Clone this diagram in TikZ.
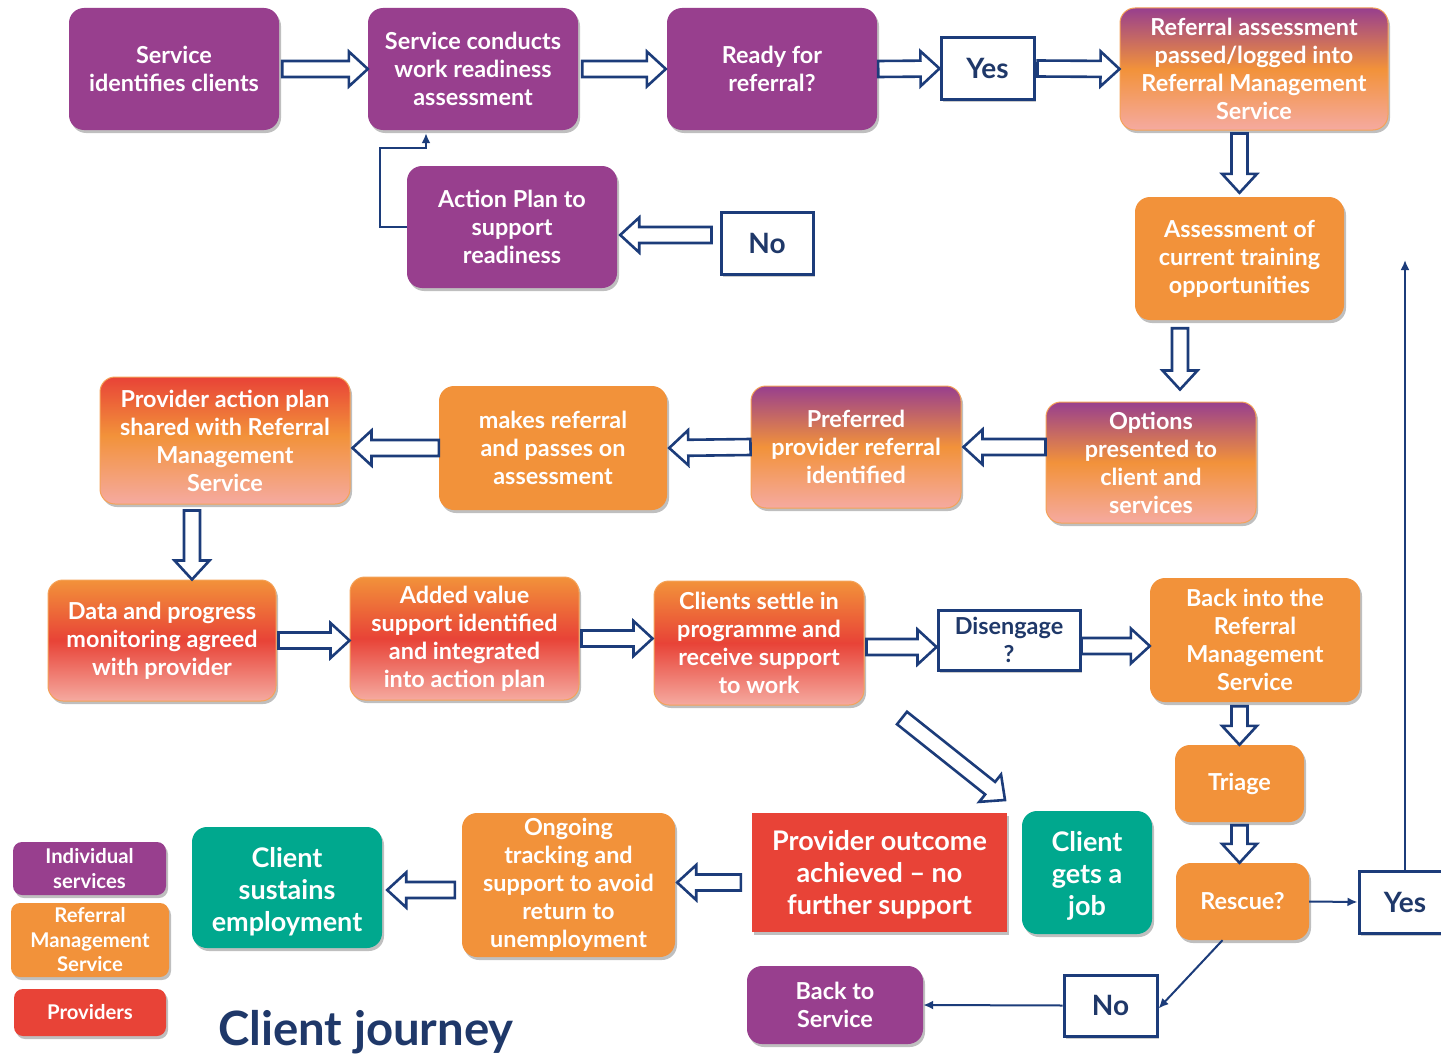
\documentclass[tikz,border=0pt]{standalone}
\usepackage{fontspec}
\setmainfont{Lato}
\usetikzlibrary{calc,shadows,arrows.meta}

\definecolor{cjpurple}{RGB}{152,63,142}
\definecolor{cjorange}{RGB}{242,146,58}
\definecolor{cjred}{RGB}{232,67,55}
\definecolor{cjpink}{RGB}{245,170,160}
\definecolor{cjteal}{RGB}{0,168,142}
\definecolor{cjblue}{RGB}{28,60,122}
\definecolor{cjnavy}{RGB}{31,56,105}

% vertical blends for the mixed-role boxes (top colour at 75bp, bottom at 25bp)
\pgfdeclareverticalshading{shPO}{100bp}{color(0bp)=(cjpink); color(25bp)=(cjpink);
  color(50bp)=(cjorange); color(75bp)=(cjpurple); color(100bp)=(cjpurple)}
\pgfdeclareverticalshading{shRO}{100bp}{color(0bp)=(cjpink); color(25bp)=(cjpink);
  color(52bp)=(cjorange); color(75bp)=(cjred); color(100bp)=(cjred)}
\pgfdeclareverticalshading{shOR}{100bp}{color(0bp)=(cjpink); color(25bp)=(cjpink);
  color(50bp)=(cjred); color(75bp)=(cjorange); color(100bp)=(cjorange)}

\newcommand\boxfont{\fontsize{23.4}{28}\selectfont\bfseries}
\newcommand\bigboxfont{\fontsize{27}{32}\selectfont\bfseries}
\newcommand\hugeboxfont{\fontsize{27}{32}\selectfont\bfseries}
\newcommand\legendfont{\fontsize{20.3}{24.5}\selectfont\bfseries}
\newcommand\answerfont{\fontsize{28}{30}\selectfont\bfseries}
% taller first line, to sit a block of text a little lower in its box
\newcommand\lowerby[1]{\rule{0pt}{#1}}

% hollow block arrow from one point to another
\newcommand\hollowarrow[2]{%
  \draw[hollow] let \p1=(#1), \p2=(#2),
      \n1={atan2(\y2-\y1,\x2-\x1)}, \n2={veclen(\x2-\x1,\y2-\y1)} in
    [shift={(\x1,\y1)}, rotate=\n1]
    (0pt,-8pt) -- ({\n2-19pt},-8pt) -- ({\n2-19pt},-17.5pt) -- ({\n2*1pt},0pt)
    -- ({\n2-19pt},17.5pt) -- ({\n2-19pt},8pt) -- (0pt,8pt) -- cycle;}

\tikzset{
  box/.style={rounded corners=15pt, text=white, align=center, font=\boxfont,
    inner sep=0pt, drop shadow={shadow xshift=2pt, shadow yshift=-3pt, opacity=0.25, fill=black}},
  purplebox/.style={box, fill=cjpurple},
  orangebox/.style={box, fill=cjorange},
  tealbox/.style={box, fill=cjteal},
  redbox/.style={box, fill=cjred},
  gradPO/.style={box, shade, shading=shPO, draw=cjorange!85!white, line width=1pt},
  gradRO/.style={box, shade, shading=shRO, draw=cjorange!85!white, line width=1pt},
  gradOR/.style={box, shade, shading=shOR, draw=cjorange!85!white, line width=1pt},
  answer/.style={draw=cjblue, line width=3pt, fill=white, text=cjnavy, font=\answerfont,
    align=center, inner sep=0pt,
    drop shadow={shadow xshift=2pt, shadow yshift=-3pt, opacity=0.2, fill=black}},
  hollow/.style={draw=cjblue, line width=2.6pt, fill=white, line join=miter},
  link/.style={draw=cjblue, line width=2pt, -{Latex[length=10pt,width=9pt]}},
}

\begin{document}
\begin{tikzpicture}[x=1pt, y=-1pt]
\useasboundingbox (0,0) rectangle (1441,1057);
\clip (0,0) rectangle (1441,1057);
\fill[white] (0,0) rectangle (1441,1057);

% ---- first row: individual services ----
\node[purplebox, minimum width=210, minimum height=122] (n1) at (174,69)
  {Service\\identifies clients};
\node[purplebox, minimum width=210, minimum height=122] (n2) at (473,69)
  {Service conducts\\work readiness\\assessment};
\node[purplebox, minimum width=210, minimum height=122] (n3) at (772,69)
  {Ready for\\referral?};
\node[answer, minimum width=93, minimum height=61] (yes1) at (987.5,68.5) {Yes};
\node[gradPO, minimum width=268, minimum height=122] (n5) at (1254,69)
  {Referral assessment\\passed/logged into\\Referral Management\\Service};
\node[purplebox, minimum width=210, minimum height=122] (n6) at (512,227)
  {Action Plan to\\support\\readiness};
\node[answer, minimum width=92, minimum height=62] (no1) at (767,243) {No};
\node[orangebox, minimum width=209, minimum height=123] (n8) at (1239.5,258.5)
  {Assessment of\\current training\\opportunities};

% ---- referral management ----
\node[gradPO, minimum width=210, minimum height=121] (n9) at (1151,462.5)
  {Options\\presented to\\client and\\services};
\node[gradPO, minimum width=210, minimum height=122] (n10) at (856,447)
  {Preferred\\provider referral\\identified};
\node[orangebox, minimum width=228, minimum height=124] (n11) at (553,448)
  {makes referral\\and passes on\\assessment};
\node[gradRO, minimum width=250, minimum height=127] (n12) at (225,440.5)
  {Provider action plan\\shared with Referral\\Management\\Service};

% ---- providers ----
\node[gradOR, minimum width=228, minimum height=121] (n13) at (162,640.5)
  {Data and progress\\monitoring agreed\\with provider};
\node[gradOR, minimum width=229, minimum height=123] (n14) at (464.5,638.5)
  {Added value\\support identified\\and integrated\\into action plan};
\node[gradOR, minimum width=210, minimum height=124] (n15) at (759,643)
  {Clients settle in\\programme and\\receive support\\to work};
\node[answer, font=\boxfont, minimum width=142, minimum height=60] (dis) at (1009,640)
  {Disengage\\?};
\node[orangebox, minimum width=210, minimum height=124] (n17) at (1255,640)
  {Back into the\\Referral\\Management\\Service};
\node[orangebox, minimum width=129, minimum height=77] (triage) at (1239.5,783.5) {Triage};
\node[orangebox, minimum width=133, minimum height=77] (rescue) at (1242.5,901.5) {Rescue?};
\node[answer, minimum width=92, minimum height=62] (yes2) at (1405,902) {Yes};
\node[answer, minimum width=93, minimum height=61] (no2) at (1110.5,1005.5) {No};
\node[purplebox, minimum width=176, minimum height=78] (back) at (835,1005)
  {Back to\\Service};

% ---- outcomes ----
\node[redbox, rounded corners=0pt, font=\bigboxfont, minimum width=255, minimum height=119]
  (outcome) at (879.5,872.5) {\lowerby{25pt}Provider outcome\\achieved -- no\\further support};
\node[tealbox, font=\hugeboxfont, minimum width=130, minimum height=123] (job) at (1087,872.5)
  {\lowerby{26pt}Client\\gets a\\job};
\node[orangebox, minimum width=213, minimum height=144] (ongoing) at (568.5,885)
  {Ongoing\\tracking and\\support to avoid\\return to\\unemployment};
\node[tealbox, font=\hugeboxfont, minimum width=190, minimum height=121] (sustains) at (287,887.5)
  {\lowerby{29pt}Client\\sustains\\employment};

% ---- legend and title ----
\node[purplebox, rounded corners=9pt, font=\legendfont, minimum width=153, minimum height=53]
  (leg1) at (89.5,868.5) {Individual\\services};
\node[orangebox, rounded corners=9pt, font=\legendfont, minimum width=158, minimum height=74]
  (leg2) at (90,940) {Referral\\Management\\Service};
\node[redbox, rounded corners=9pt, font=\legendfont, minimum width=152, minimum height=47]
  (leg3) at (90,1012.5) {Providers};
\node[anchor=base west, text=cjnavy, font=\fontsize{47.3}{52}\selectfont\bfseries, inner sep=0pt]
  (title) at (218,1045) {Client journey};

% ---- block arrows ----
\hollowarrow{[xshift=3pt]n1.east}{n2.west}
\hollowarrow{[xshift=4pt]n2.east}{[xshift=-1pt]n3.west}
\hollowarrow{[xshift=1pt]n3.east}{yes1.west}
\hollowarrow{[xshift=2pt]yes1.east}{n5.west}
\hollowarrow{[yshift=-3pt]n5.south -| n8}{[yshift=4pt]n8.north}
\coordinate (a6) at (1180,0);
\hollowarrow{[yshift=-8pt]n8.south -| a6}{[yshift=12pt]n9.north -| a6}
\hollowarrow{n9.west |- n10.east}{[xshift=2pt]n10.east}
\hollowarrow{n10.west}{[xshift=2pt]n11.east}
\hollowarrow{n11.west}{[xshift=2pt]n12.east |- n11.west}
\coordinate (a10) at (192,0);
\hollowarrow{[yshift=-6pt]n12.south -| a10}{n13.north -| a10}
\hollowarrow{[xshift=2pt]n13.east}{n14.west |- n13.east}
\hollowarrow{[xshift=2pt]n14.east}{[xshift=-1pt]n15.west |- n14.east}
\hollowarrow{[xshift=2pt,yshift=-4pt]n15.east}{[yshift=-4pt]dis.west |- n15.east}
\hollowarrow{[yshift=-6pt]dis.east}{[yshift=-6pt]n17.west |- dis.east}
\hollowarrow{[yshift=-4pt]n17.south -| triage}{triage.north}
\hollowarrow{[yshift=-3pt]triage.south}{rescue.north -| triage}
\coordinate (d1) at (902,718);
\coordinate (d2) at (1005,800);
\hollowarrow{d1}{d2}
\hollowarrow{[xshift=-11pt,yshift=-10pt]outcome.west}{[xshift=2pt,yshift=-10pt]ongoing.east |- outcome.west}
\hollowarrow{[xshift=-7pt,yshift=-5pt]ongoing.west}{[xshift=5pt,yshift=-5pt]sustains.east |- ongoing.west}
\hollowarrow{[xshift=-8pt,yshift=8pt]no1.west}{[xshift=3pt,yshift=8pt]n6.east |- no1.west}

% ---- thin connectors ----
\draw[link] (n6.west) -- ++(-27,0) |- ([xshift=-47pt,yshift=-18pt]n2.south)
  -- ([xshift=-47pt,yshift=-3pt]n2.south);
\draw[link] (rescue.east) -- (yes2.west);
\coordinate (t3) at (1405,260);
\draw[link] (yes2.north) -- (yes2.north |- t3);
\draw[link] ([xshift=-20pt]rescue.south) -- ([yshift=-3pt]no2.east);
\draw[link] (no2.west) -- (back.east);
\end{tikzpicture}
\end{document}
